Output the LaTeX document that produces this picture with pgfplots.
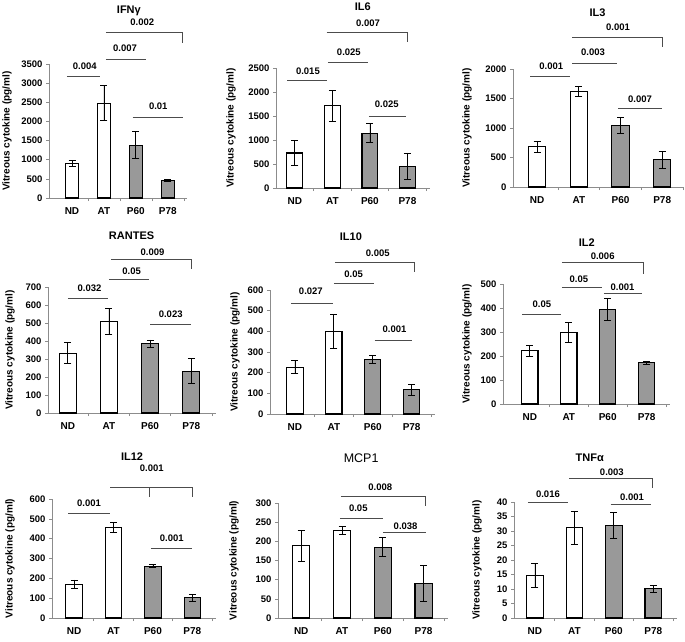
\documentclass[border=0pt]{standalone}
\usepackage{fontspec}
\setmainfont{Liberation Sans}
\usepackage{pgfplots}
\pgfplotsset{compat=1.18}
\definecolor{barg}{gray}{0.6}
\definecolor{axg}{gray}{0.55}
\definecolor{brg}{gray}{0.3}
\tikzset{
 ptxt/.style={font=\bfseries\fontsize{9.5}{10}\selectfont, inner sep=0pt},
 ttl/.style={font=\bfseries\fontsize{11}{12}\selectfont, inner sep=0pt},
 ylabst/.style={rotate=90, font=\bfseries\fontsize{10}{11}\selectfont, inner sep=0pt},
}
\pgfplotsset{
 panel/.style={
  scale only axis, axis lines*=left, axis line style={axg, line width=0.7pt},
  ymin=0, clip=false,
  xtick={0,1,2,3}, xticklabels={ND,AT,P60,P78},
  major x tick style={draw=none},
  minor xtick={0.5,1.5,2.5,3.5},
  minor x tick style={axg, line width=0.6pt},
  minor tick length=3pt,
  ytick style={axg, line width=0.6pt}, major tick length=3pt, tick align=outside,
  scaled y ticks=false,
  /pgf/number format/1000 sep={},
  /pgf/number format/assume math mode=true,
  ticklabel style={font=\bfseries\fontsize{9.5}{10}\selectfont},
  xticklabel style={yshift=-3pt, font=\bfseries\fontsize{10}{11}\selectfont},
 },
 wbar/.style={ybar, bar width=0.42, bar shift=0pt, fill=white, draw=black, line width=1.1pt,
  error bars/y dir=both, error bars/y explicit,
  error bars/error bar style={black, line width=0.8pt},
  error bars/error mark options={rotate=90, mark size=3.5pt, black, line width=0.8pt}},
 gbar/.style={wbar, fill=barg},
}
\newcommand{\pbr}[6]{%
 \draw[brg, line width=0.8pt] (axis cs:#1,#3) -- (axis cs:#2,#3);
 \node[ptxt] at (axis cs:#5,#6) {#4};}
\newcommand{\pbrd}[7]{%
 \draw[brg, line width=0.8pt] (axis cs:#1,#3) -- (axis cs:#2,#3) -- (axis cs:#2,#7);
 \node[ptxt] at (axis cs:#5,#6) {#4};}
\newcommand{\ylab}[1]{\node[ylabst] at ([xshift=-#1]axis description cs:0,0.5) {Vitreous cytokine (pg/ml)};}
\begin{document}
\begin{tikzpicture}
\path[use as bounding box] (0,0) rectangle (685pt,-641pt);

% IFN gamma
\begin{axis}[panel, at={(49pt,-198pt)}, width=138pt, height=134pt, xmin=-0.72, xmax=3.6, ymax=3500, ytick={0,500,...,3500}]
\addplot[wbar] coordinates {(0,900) +- (0,70) (1,2480) +- (0,460)};
\addplot[gbar] coordinates {(2,1380) +- (0,350) (3,450) +- (0,25)};
\node[ttl] at (axis cs:1.78,4884) {IFNγ};
\pbr{-0.16}{0.87}{3187}{0.004}{0.4}{3448}
\pbr{1.06}{2.31}{3631}{0.007}{1.66}{3918}
\pbrd{1.06}{3.47}{4336}{0.002}{2.2}{4597}{4049}
\pbr{1.9}{3.47}{2116}{0.01}{2.7}{2403}
\ylab{42pt}
\end{axis}

% IL6
\begin{axis}[panel, at={(276pt,-188pt)}, width=154pt, height=120pt, xmin=-0.5, xmax=3.6, ymax=2500, ytick={0,500,...,2500}]
\addplot[wbar] coordinates {(0,730) +- (0,260) (1,1710) +- (0,330)};
\addplot[gbar] coordinates {(2,1140) +- (0,200) (3,450) +- (0,280)};
\node[ttl] at (axis cs:1.81,3771) {IL6};
\pbr{-0.2}{0.85}{2250}{0.015}{0.35}{2437}
\pbr{0.88}{1.95}{2625}{0.025}{1.44}{2833}
\pbrd{0.85}{3.0}{3250}{0.007}{1.95}{3437}{3042}
\pbr{1.97}{2.95}{1500}{0.025}{2.45}{1750}
\ylab{45pt}
\end{axis}

% IL3
\begin{axis}[panel, at={(513pt,-187pt)}, width=170pt, height=118pt, xmin=-0.58, xmax=3.5, ymax=2000, ytick={0,500,...,2000}]
\addplot[wbar] coordinates {(0,680) +- (0,85) (1,1620) +- (0,90)};
\addplot[gbar] coordinates {(2,1040) +- (0,135) (3,460) +- (0,140)};
\node[ttl] at (axis cs:1.45,2949) {IL3};
\pbr{-0.17}{0.79}{1881}{0.001}{0.34}{2051}
\pbr{0.84}{1.92}{2102}{0.003}{1.34}{2288}
\pbrd{0.84}{3.0}{2542}{0.001}{1.94}{2712}{2373}
\pbr{1.94}{3.0}{1339}{0.007}{2.47}{1492}
\ylab{46pt}
\end{axis}

% RANTES
\begin{axis}[panel, at={(48pt,-413pt)}, width=168pt, height=126pt, xmin=-0.48, xmax=3.6, ymax=700, ytick={0,100,...,700}]
\addplot[wbar] coordinates {(0,333) +- (0,59) (1,510) +- (0,73)};
\addplot[gbar] coordinates {(2,385) +- (0,21) (3,232) +- (0,70)};
\node[ttl] at (axis cs:1.55,983) {RANTES};
\pbr{0.0}{0.98}{639}{0.032}{0.53}{694}
\pbr{1.0}{1.97}{744}{0.05}{1.55}{789}
\pbrd{1.05}{3.0}{856}{0.009}{2.06}{894}{800}
\pbr{2.0}{3.0}{494}{0.023}{2.5}{550}
\ylab{38pt}
\end{axis}

% IL10
\begin{axis}[panel, at={(270pt,-414pt)}, width=165pt, height=124pt, xmin=-0.64, xmax=3.6, ymax=600, ytick={0,100,...,600}]
\addplot[wbar] coordinates {(0,227) +- (0,32) (1,398) +- (0,82)};
\addplot[gbar] coordinates {(2,265) +- (0,18) (3,117) +- (0,25)};
\node[ttl] at (axis cs:1.44,856) {IL10};
\pbr{-0.1}{0.97}{537}{0.027}{0.41}{595}
\pbr{1.0}{2.03}{634}{0.05}{1.51}{677}
\pbrd{1.03}{3.08}{735}{0.005}{2.13}{779}{687}
\pbr{2.05}{3.0}{358}{0.001}{2.56}{411}
\ylab{35pt}
\end{axis}

% IL2
\begin{axis}[panel, at={(503pt,-404pt)}, width=167pt, height=120pt, xmin=-0.69, xmax=3.6, ymax=500, ytick={0,100,...,500}]
\addplot[wbar] coordinates {(0,222) +- (0,23) (1,298) +- (0,40)};
\addplot[gbar] coordinates {(2,395) +- (0,45) (3,172) +- (0,5)};
\node[ttl] at (axis cs:1.46,671) {IL2};
\pbr{-0.2}{0.8}{375}{0.05}{0.31}{417}
\pbr{0.82}{1.85}{487}{0.05}{1.26}{521}
\pbrd{0.82}{2.92}{588}{0.006}{1.87}{617}{542}
\pbr{1.9}{2.87}{462}{0.001}{2.38}{485}
\ylab{36pt}
\end{axis}

% IL12
\begin{axis}[panel, at={(52pt,-618pt)}, width=164pt, height=119pt, xmin=-0.56, xmax=3.6, ymax=600, ytick={0,100,...,600}]
\addplot[wbar] coordinates {(0,170) +- (0,22) (1,455) +- (0,25)};
\addplot[gbar] coordinates {(2,262) +- (0,9) (3,103) +- (0,18)};
\node[ttl] at (axis cs:1.47,812) {IL12};
\pbr{-0.15}{0.9}{529}{0.001}{0.38}{580}
\draw[brg, line width=0.8pt] (axis cs:0.92,660) -- (axis cs:3.0,660) -- (axis cs:3.0,610);
\draw[brg, line width=0.8pt] (axis cs:1.92,660) -- (axis cs:1.92,610);
\node[ptxt] at (axis cs:1.97,756) {0.001};
\pbr{1.95}{3.0}{353}{0.001}{2.48}{403}
\ylab{42pt}
\end{axis}

% MCP1
\begin{axis}[panel, at={(278pt,-618pt)}, width=170pt, height=115pt, xmin=-0.57, xmax=3.6, ymax=300, ytick={0,50,...,300}]
\addplot[wbar] coordinates {(0,188) +- (0,41) (1,228) +- (0,10)};
\addplot[gbar] coordinates {(2,185) +- (0,25) (3,90) +- (0,47)};
\node[font=\fontsize{12.5}{13}\selectfont, inner sep=0pt] at (axis cs:1.47,417) {MCP1};
\pbr{0.95}{2.0}{261}{0.05}{1.4}{287}
\pbrd{0.97}{3.05}{318}{0.008}{1.94}{342}{292}
\pbr{2.0}{3.05}{224}{0.038}{2.56}{240}
\ylab{44pt}
\end{axis}

% TNF alpha
\begin{axis}[panel, at={(514pt,-618pt)}, width=163pt, height=116pt, xmin=-0.53, xmax=3.6, ymax=40, ytick={0,5,...,40}]
\addplot[wbar] coordinates {(0,14.7) +- (0,4) (1,31.1) +- (0,5.8)};
\addplot[gbar] coordinates {(2,31.8) +- (0,4.5) (3,10.1) +- (0,1.1)};
\node[ttl] at (axis cs:1.39,55.2) {TNFα};
\pbr{-0.18}{0.84}{40}{0.016}{0.33}{42.8}
\pbrd{0.87}{2.98}{48.3}{0.003}{1.95}{50.3}{44.8}
\pbr{1.92}{2.95}{39.3}{0.001}{2.46}{41.7}
\ylab{37pt}
\end{axis}
\end{tikzpicture}
\end{document}
